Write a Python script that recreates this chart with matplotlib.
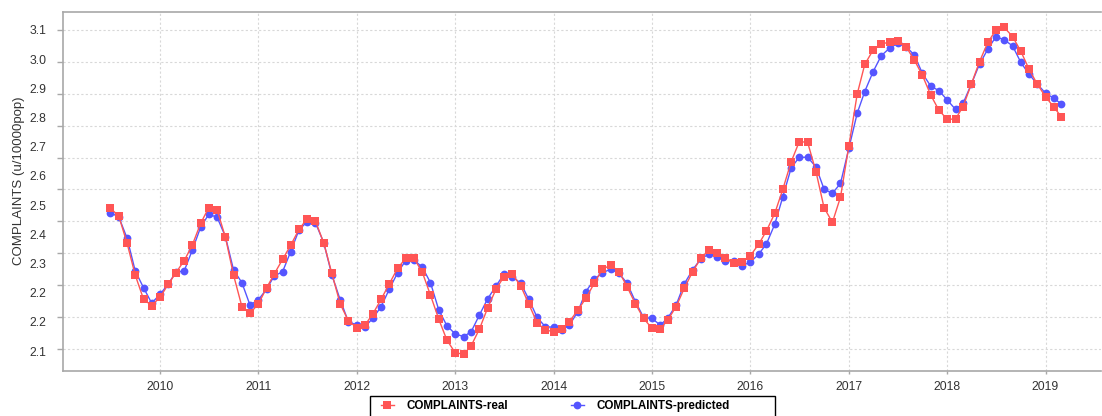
import numpy as np
import pandas as pd
import matplotlib
matplotlib.use("Agg")
import matplotlib.pyplot as plt
import matplotlib.dates as mdates
from matplotlib.lines import Line2D
from matplotlib.patches import Rectangle

# Monthly series, July 2009 .. March 2019
months = pd.date_range("2009-07-01", periods=117, freq="MS")

complaints_real = [
    2.541, 2.517, 2.431, 2.332, 2.256, 2.236, 2.262, 2.303, 2.339, 2.377, 2.426, 2.494,
    2.543, 2.536, 2.450, 2.332, 2.233, 2.212, 2.241, 2.292, 2.335, 2.381, 2.425, 2.475,
    2.508, 2.501, 2.432, 2.337, 2.241, 2.189, 2.167, 2.175, 2.210, 2.256, 2.304, 2.353,
    2.384, 2.384, 2.340, 2.269, 2.193, 2.128, 2.088, 2.084, 2.110, 2.163, 2.228, 2.287,
    2.327, 2.334, 2.298, 2.241, 2.182, 2.160, 2.154, 2.163, 2.186, 2.222, 2.259, 2.306,
    2.350, 2.363, 2.342, 2.295, 2.241, 2.196, 2.165, 2.163, 2.191, 2.233, 2.290, 2.342,
    2.384, 2.410, 2.402, 2.386, 2.371, 2.372, 2.392, 2.428, 2.470, 2.525, 2.601, 2.687,
    2.750, 2.748, 2.656, 2.543, 2.497, 2.576, 2.736, 2.899, 2.992, 3.037, 3.055, 3.063,
    3.066, 3.048, 3.006, 2.958, 2.896, 2.849, 2.820, 2.821, 2.860, 2.931, 3.001, 3.061,
    3.100, 3.108, 3.079, 3.034, 2.977, 2.931, 2.891, 2.858, 2.828,
]

complaints_predicted = [
    2.527, 2.514, 2.447, 2.345, 2.292, 2.244, 2.271, 2.304, 2.341, 2.345, 2.410, 2.482,
    2.522, 2.513, 2.452, 2.348, 2.308, 2.238, 2.254, 2.288, 2.329, 2.342, 2.405, 2.473,
    2.499, 2.496, 2.433, 2.332, 2.254, 2.186, 2.175, 2.170, 2.196, 2.233, 2.287, 2.339,
    2.377, 2.379, 2.356, 2.308, 2.222, 2.173, 2.147, 2.139, 2.154, 2.207, 2.257, 2.297,
    2.335, 2.327, 2.306, 2.256, 2.199, 2.170, 2.168, 2.160, 2.175, 2.217, 2.280, 2.318,
    2.339, 2.350, 2.337, 2.306, 2.248, 2.199, 2.196, 2.175, 2.197, 2.238, 2.304, 2.348,
    2.382, 2.398, 2.389, 2.376, 2.377, 2.361, 2.372, 2.397, 2.429, 2.491, 2.577, 2.668,
    2.701, 2.701, 2.671, 2.601, 2.588, 2.619, 2.729, 2.839, 2.907, 2.969, 3.019, 3.043,
    3.058, 3.048, 3.022, 2.964, 2.924, 2.910, 2.881, 2.851, 2.870, 2.931, 2.993, 3.040,
    3.079, 3.069, 3.050, 2.999, 2.961, 2.931, 2.902, 2.886, 2.868,
]

grid_values = [3.1, 3.0, 2.9, 2.8, 2.7, 2.6, 2.5, 2.4, 2.3, 2.2, 2.1]
y_tick_labels = ["3.1", "3.0", "2.9", "2.8", "2.7", "2.6", "2.5", "2.4", "2.3", "2.2", "2.2", "2.1"]
years = list(range(2010, 2020))

RED = "#ff5555"
BLUE = "#5555ff"
AXIS_GRAY = "#a8a8a8"
TEXT_GRAY = "#333333"

plt.rcParams["font.family"] = ["Liberation Sans", "DejaVu Sans"]

W, H = 1102, 416
fig = plt.figure(figsize=(W / 100, H / 100), dpi=100)
fig.patch.set_facecolor("white")
ax = fig.add_axes([63 / W, 45 / H, (1101 - 63) / W, (371 - 12) / H])

ax.plot(months, complaints_predicted, color=BLUE, lw=1.0, marker="o", ms=5.6,
        mew=0, zorder=3, label="COMPLAINTS-predicted")
ax.plot(months, complaints_real, color=RED, lw=1.0, marker="s", ms=5.8,
        mew=0, zorder=4, label="COMPLAINTS-real")

ax.set_ylim(2.031, 3.1564)
ax.set_xlim(pd.Timestamp("2009-01-06"), pd.Timestamp("2019-07-26"))

# x axis: one tick per year
ax.set_xticks([pd.Timestamp(f"{y}-01-01") for y in years])
ax.xaxis.set_major_formatter(mdates.DateFormatter("%Y"))

# y axis: gridline ticks without text, labels on their own (minor) positions
ax.yaxis.remove_overlapping_locs = False
ax.set_yticks(grid_values)
ax.set_yticklabels([])
label_pos = np.linspace(3.1, 3.1 - 11 * 29.2 / 319, len(y_tick_labels))
ax.set_yticks(label_pos, minor=True)
ax.set_yticklabels(y_tick_labels, minor=True)

ax.tick_params(axis="y", which="major", length=4, width=1, color=AXIS_GRAY, direction="out")
ax.tick_params(axis="y", which="minor", length=0, pad=12, labelsize=8.8, labelcolor=TEXT_GRAY)
ax.tick_params(axis="x", which="major", length=2, width=1, color=AXIS_GRAY,
               labelsize=8.8, labelcolor=TEXT_GRAY, pad=5)

ax.grid(True, which="major", color="#d8d8d8", lw=0.8, linestyle=(0, (2, 2)))
ax.set_axisbelow(True)

for side in ("left", "bottom", "top"):
    ax.spines[side].set_color(AXIS_GRAY)
    ax.spines[side].set_linewidth(1.2)
ax.spines["right"].set_visible(False)

fig.text(19 / W, 1 - 181 / H, "COMPLAINTS (u/10000pop)", rotation=90,
         ha="center", va="center", fontsize=9.5, color=TEXT_GRAY)

# legend below the plot
handles = [
    Line2D([], [], color=RED, lw=1.0, marker="s", ms=5.8, mew=0),
    Line2D([], [], color=BLUE, lw=1.0, marker="o", ms=5.6, mew=0),
]
labels = ["COMPLAINTS-real", "COMPLAINTS-predicted"]
fig.legend(handles, labels, ncol=2, frameon=False, loc="center left",
           bbox_to_anchor=(375 / W, 1 - 406 / H), borderpad=0,
           handlelength=1.1, handletextpad=1.08, columnspacing=5.4,
           prop={"weight": "bold", "size": 8.4})
fig.patches.append(Rectangle((370 / W, -10 / H), (775 - 370) / W, (H - 396 + 10) / H,
                             transform=fig.transFigure, fill=False,
                             edgecolor="black", lw=1.0, clip_on=False))

fig.savefig("out.png", dpi=100, facecolor="white")
